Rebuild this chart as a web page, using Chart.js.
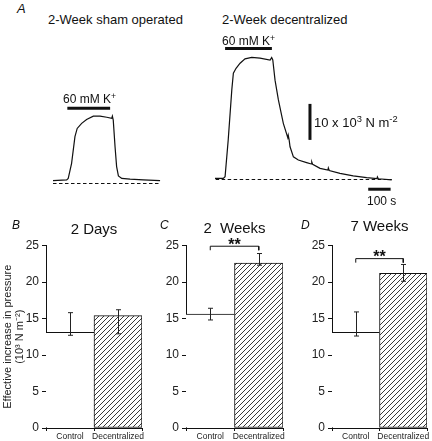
<!DOCTYPE html>
<html>
<head>
<meta charset="utf-8">
<script src="https://cdn.jsdelivr.net/npm/chart.js@4.4.0/dist/chart.umd.min.js"></script>
<style>
  body { margin: 0; background: #fff; width: 432px; height: 441px; position: relative; overflow: hidden;
         font-family: "Liberation Sans", Arial, sans-serif; color: #111; }
  canvas { position: absolute; }
  .txt { position: absolute; line-height: 1; white-space: nowrap; }
  .txt sup { font-size: 0.72em; vertical-align: 0.5em; line-height: 0; }
  .letra { font-style: italic; font-size: 12px; }
</style>
</head>
<body>
<canvas id="tracoSham" width="140" height="105" style="left:40px;top:85px"></canvas>
<canvas id="tracoDec" width="232" height="170" style="left:200px;top:30px"></canvas>
<canvas id="barB" width="150" height="236" style="left:0px;top:205px"></canvas>
<canvas id="barC" width="145" height="236" style="left:145px;top:205px"></canvas>
<canvas id="barD" width="142" height="236" style="left:290px;top:205px"></canvas>

<div class="txt letra" style="left:17px;top:2px;font-size:13px">A</div>
<div class="txt" style="left:48px;top:13px;font-size:13px">2-Week sham operated</div>
<div class="txt" style="left:222px;top:13px;font-size:13px">2-Week decentralized</div>
<div class="txt" style="left:63px;top:93px;font-size:12px">60 mM K<sup>+</sup></div>
<div class="txt" style="left:222px;top:34.5px;font-size:12px">60 mM K<sup>+</sup></div>
<div class="txt" style="left:314px;top:115.5px;font-size:13px">10 x 10<sup>3</sup> N m<sup>-2</sup></div>
<div class="txt" style="left:367px;top:195px;font-size:12px">100 s</div>
<div class="txt letra" style="left:12px;top:218.5px">B</div>
<div class="txt letra" style="left:160px;top:218.5px">C</div>
<div class="txt letra" style="left:301px;top:218.5px">D</div>

<script>
// Painel A: tracados (tempo em s, pressao em 10^3 N m^-2 acima da linha de base)
var shamTempo   = [0, 61, 68, 83, 98, 108, 128, 150, 180, 210, 240, 262, 265, 269, 277, 284, 292, 307, 344, 403, 478];
var shamPressao = [0.8, 1.0, 1.4, 5.6, 13.0, 15.3, 16.7, 17.8, 18.7, 18.7, 18.4, 18.1, 18.7, 17.6, 10.2, 4.7, 2.1, 1.4, 1.2, 1.0, 0.8];
var shamK = [64, 255];

var decTempo   = [0, 37, 45, 59, 75, 82, 94, 112, 134, 164, 201, 246, 253, 258, 268, 283, 305, 325, 327, 331, 335, 350, 372, 409, 430, 432, 436, 469, 504, 506, 510, 558, 617, 677, 723, 725, 729, 789];
var decPressao = [0.3, 0.3, 0.8, 11.0, 24.9, 29.5, 30.9, 32.3, 33.5, 33.9, 33.7, 33.2, 33.9, 33.2, 27.6, 22.1, 15.6, 11.6, 12.3, 11.0, 9.1, 6.3, 5.4, 4.7, 4.3, 4.9, 4.2, 3.1, 2.6, 3.2, 2.5, 1.7, 1.0, 0.5, 0.25, 0.7, 0.2, -0.1];
var decK = [45, 254];

var escalaPressao = 10;  // 10 x 10^3 N m^-2
var escalaTempo = 100;   // 100 s

// Paineis B, C, D
var grupos  = ['Control', 'Decentralized'];
var titulos = ['2 Days', '2  Weeks', '7 Weeks'];
var medias  = [[13.1, 15.4], [15.6, 22.6], [13.1, 21.2]];
var erroInf = [[12.7, 12.9], [14.8, 22.3], [12.6, 20.1]];
var erroSup = [[15.8, 16.2], [16.4, 23.9], [15.9, 22.4]];
var colchete = [null, 24.9, 23.2];
var yTicks = [0, 5, 10, 15, 20, 25];

var FONTE = '"Liberation Sans", Arial, sans-serif';
var PX_S = 0.224, PX_U = 3.6;

function pontos(ts, vs) {
  return ts.map(function (t, i) { return { x: t, y: vs[i] }; });
}
function linha(pts, largura, tracejado) {
  return { data: pts, showLine: true, borderColor: '#111', borderWidth: largura, borderDash: tracejado || [],
           pointRadius: 0, tension: 0, clip: false };
}

function graficoTraco(id, datasets, x0, y0) {
  var el = document.getElementById(id);
  var left = parseFloat(el.style.left), top = parseFloat(el.style.top);
  new Chart(el, {
    type: 'scatter',
    data: { datasets: datasets },
    options: {
      responsive: false, animation: false, events: [],
      layout: { padding: 0 },
      plugins: { legend: { display: false }, tooltip: { enabled: false } },
      scales: {
        x: { type: 'linear', display: false, min: (left - x0) / PX_S, max: (left + el.width - x0) / PX_S },
        y: { display: false, min: (y0 - (top + el.height)) / PX_U, max: (y0 - top) / PX_U }
      }
    }
  });
}

// sham operado
var shamFim = shamTempo[shamTempo.length - 1];
graficoTraco('tracoSham', [
  linha(pontos(shamTempo, shamPressao), 1.2),
  linha([{ x: 0, y: 0 }, { x: shamFim, y: 0 }], 1, [3.5, 2.5]),
  linha([{ x: shamK[0], y: 20.9 }, { x: shamK[1], y: 20.9 }], 3)
], 53, 183.5);

// descentralizado + barras de escala
var decFim = decTempo[decTempo.length - 1];
graficoTraco('tracoDec', [
  linha(pontos(decTempo, decPressao), 1.2),
  linha([{ x: 3, y: 0 }, { x: decFim, y: 0 }], 1, [3.5, 2.5]),
  linha([{ x: decK[0], y: 36.4 }, { x: decK[1], y: 36.4 }], 3),
  linha([{ x: 424, y: 11 }, { x: 424, y: 11 + escalaPressao }], 3),
  linha([{ x: 684, y: -2.7 }, { x: 684 + escalaTempo, y: -2.7 }], 3)
], 215, 179.5);

// hachura diagonal
function hachura() {
  var c = document.createElement('canvas');
  c.width = 5; c.height = 5;
  var g = c.getContext('2d');
  g.fillStyle = '#fff'; g.fillRect(0, 0, 5, 5);
  g.strokeStyle = '#222'; g.lineWidth = 0.9;
  g.beginPath();
  g.moveTo(-1, 6); g.lineTo(6, -1);
  g.moveTo(-1, 1); g.lineTo(1, -1);
  g.moveTo(4, 6); g.lineTo(6, 4);
  g.stroke();
  return g.createPattern(c, 'repeat');
}

var pluginErro = {
  id: 'barrasErro',
  afterDatasetsDraw: function (chart, args, opts) {
    var ctx = chart.ctx, y = chart.scales.y;
    var meta = chart.getDatasetMeta(0);
    ctx.save();
    ctx.strokeStyle = '#222'; ctx.lineWidth = 1;
    meta.data.forEach(function (bar, i) {
      var x = Math.round(bar.x) + 0.5;
      var yl = y.getPixelForValue(opts.inf[i]), yh = y.getPixelForValue(opts.sup[i]);
      ctx.beginPath();
      ctx.moveTo(x, yl); ctx.lineTo(x, yh);
      ctx.moveTo(x - 2.5, yl); ctx.lineTo(x + 2.5, yl);
      ctx.moveTo(x - 2.5, yh); ctx.lineTo(x + 2.5, yh);
      ctx.stroke();
    });
    if (opts.colchete != null) {
      var xm = (meta.data[0].x + meta.data[1].x) / 2;
      ctx.fillStyle = '#111';
      ctx.font = 'bold 16px ' + FONTE;
      ctx.textAlign = 'center'; ctx.textBaseline = 'alphabetic';
      ctx.fillText('**', xm, y.getPixelForValue(opts.colchete) + 3.5);
    }
    ctx.restore();
  }
};

var paineis = [
  { id: 'barB', eixo: 46, direita: 142, tituloY: 230, rotulo: true },
  { id: 'barC', eixo: 186, direita: 283, tituloY: 229 },
  { id: 'barD', eixo: 332, direita: 427, tituloY: 227 }
];
var ZERO_Y = 428, TOPO_Y = 245.5;

paineis.forEach(function (p, k) {
  var el = document.getElementById(p.id);
  var left = parseFloat(el.style.left), top = parseFloat(el.style.top);
  var padTop = p.tituloY - 9 - top;
  var padBottom = (TOPO_Y - top) - 18 - padTop;
  var datasets = [{
    type: 'bar',
    data: medias[k],
    backgroundColor: ['#fff', hachura()],
    borderColor: '#111',
    borderWidth: [{ top: 1, left: 0, right: 0, bottom: 0 }, 1],
    borderSkipped: false,
    barPercentage: 1, categoryPercentage: 1
  }];
  if (colchete[k] != null) {
    var c = colchete[k];
    datasets.push({
      type: 'line',
      data: [{ x: grupos[0], y: c - 0.55 }, { x: grupos[0], y: c }, { x: grupos[1], y: c }, { x: grupos[1], y: c - 0.55 }],
      borderColor: '#111', borderWidth: 1, pointRadius: 0, tension: 0, clip: false
    });
  }
  new Chart(el, {
    type: 'bar',
    data: { labels: grupos, datasets: datasets },
    plugins: [pluginErro],
    options: {
      responsive: false, animation: false, events: [],
      layout: { padding: { right: left + el.width - p.direita, left: 0, top: 0, bottom: 0 } },
      plugins: {
        legend: { display: false }, tooltip: { enabled: false },
        title: {
          display: true, text: titulos[k], fullSize: false, color: '#111',
          font: { family: FONTE, size: 15, weight: 'normal' },
          padding: { top: padTop, bottom: padBottom }
        },
        barrasErro: { inf: erroInf[k], sup: erroSup[k], colchete: colchete[k] }
      },
      scales: {
        x: {
          offset: true,
          grid: { display: true, drawOnChartArea: false, tickLength: 3, color: '#111', offset: true },
          border: { display: true, color: '#111', width: 1 },
          ticks: { color: '#222', padding: 1, font: { family: FONTE, size: 8.5 }, maxRotation: 0, autoSkip: false },
          afterFit: function (s) { s.height = 441 - ZERO_Y; }
        },
        y: {
          min: yTicks[0], max: yTicks[yTicks.length - 1],
          afterBuildTicks: function (s) { s.ticks = yTicks.map(function (v) { return { value: v }; }); },
          grid: { drawOnChartArea: false, tickLength: 4, color: '#111' },
          border: { display: true, color: '#111', width: 1 },
          ticks: { color: '#222', padding: 3, font: { family: FONTE, size: 12 } },
          title: {
            display: !!p.rotulo,
            text: ['Effective increase in pressure', '(10\u00b3 N m\u207b\u00b2)'],
            color: '#222', font: { family: FONTE, size: 11, lineHeight: 1.1 }, padding: { top: 2, bottom: 0 }
          },
          afterFit: function (s) { s.width = p.eixo - left; }
        }
      }
    }
  });
});
</script>
</body>
</html>
